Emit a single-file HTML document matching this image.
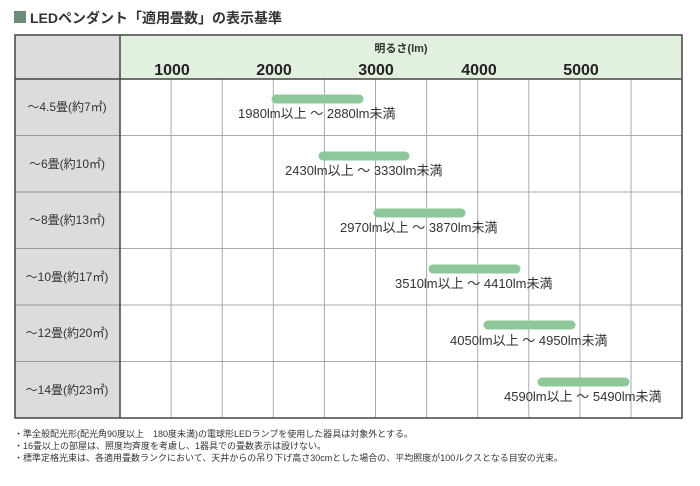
<!DOCTYPE html>
<html><head><meta charset="utf-8"><style>
body{margin:0;background:#fff;width:700px;height:481px;overflow:hidden;font-family:"Liberation Sans","Noto Sans CJK JP",sans-serif;}
</style></head><body>
<svg width="700" height="481" xmlns="http://www.w3.org/2000/svg" font-family="Liberation Sans, Noto Sans CJK JP, sans-serif">
<rect x="14" y="11" width="12" height="12" fill="#6b8c78"/>
<text x="30" y="23" font-size="14" font-weight="bold" fill="#333">LEDペンダント「適用畳数」の表示基準</text>
<rect x="15" y="35" width="105" height="383" fill="#dcdcdc"/>
<rect x="120" y="35" width="562" height="44" fill="#e2f0df"/>
<g stroke="#aaa" stroke-width="1">
<line x1="171.1" y1="79" x2="171.1" y2="418"/><line x1="222.2" y1="79" x2="222.2" y2="418"/>
<line x1="273.3" y1="79" x2="273.3" y2="418"/><line x1="324.4" y1="79" x2="324.4" y2="418"/>
<line x1="375.5" y1="79" x2="375.5" y2="418"/><line x1="426.6" y1="79" x2="426.6" y2="418"/>
<line x1="477.7" y1="79" x2="477.7" y2="418"/><line x1="528.8" y1="79" x2="528.8" y2="418"/>
<line x1="579.9" y1="79" x2="579.9" y2="418"/><line x1="631" y1="79" x2="631" y2="418"/>
<line x1="120" y1="135.5" x2="682" y2="135.5"/><line x1="120" y1="192" x2="682" y2="192"/>
<line x1="120" y1="248.5" x2="682" y2="248.5"/><line x1="120" y1="305" x2="682" y2="305"/>
<line x1="120" y1="361.5" x2="682" y2="361.5"/>
</g>
<g stroke="#999" stroke-width="1">
<line x1="15" y1="135.5" x2="120" y2="135.5"/><line x1="15" y1="192" x2="120" y2="192"/>
<line x1="15" y1="248.5" x2="120" y2="248.5"/><line x1="15" y1="305" x2="120" y2="305"/>
<line x1="15" y1="361.5" x2="120" y2="361.5"/>
</g>
<g stroke="#444" stroke-width="1.5" fill="none">
<rect x="15" y="35" width="667" height="383"/>
<line x1="120" y1="35" x2="120" y2="418"/>
<line x1="15" y1="79" x2="682" y2="79"/>
</g>
<text x="401" y="52" font-size="11" font-weight="bold" fill="#333" text-anchor="middle">明るさ(lm)</text>
<g font-size="16" font-weight="bold" fill="#222" text-anchor="middle">
<text x="172" y="75">1000</text><text x="274" y="75">2000</text><text x="376" y="75">3000</text><text x="479" y="75">4000</text><text x="581" y="75">5000</text>
</g>
<g font-size="12" fill="#333" text-anchor="middle">
<text x="67" y="111">～4.5畳(約7㎡)</text>
<text x="67" y="168">～6畳(約10㎡)</text>
<text x="67" y="224">～8畳(約13㎡)</text>
<text x="67" y="281">～10畳(約17㎡)</text>
<text x="67" y="337">～12畳(約20㎡)</text>
<text x="67" y="394">～14畳(約23㎡)</text>
</g>
<g stroke="#8dc79a" stroke-width="9" stroke-linecap="round">
<line x1="276" y1="99" x2="359" y2="99"/>
<line x1="323" y1="156" x2="405" y2="156"/>
<line x1="378" y1="213" x2="461" y2="213"/>
<line x1="433" y1="269" x2="516" y2="269"/>
<line x1="488" y1="325" x2="571" y2="325"/>
<line x1="542" y1="382" x2="625" y2="382"/>
</g>
<g font-size="13" fill="#333">
<text x="238" y="118">1980lm以上 ～ 2880lm未満</text>
<text x="285" y="175">2430lm以上 ～ 3330lm未満</text>
<text x="340" y="232">2970lm以上 ～ 3870lm未満</text>
<text x="395" y="288">3510lm以上 ～ 4410lm未満</text>
<text x="450" y="345">4050lm以上 ～ 4950lm未満</text>
<text x="504" y="401">4590lm以上 ～ 5490lm未満</text>
</g>
<g font-size="9" fill="#333">
<text x="14" y="437">・準全般配光形(配光角90度以上　180度未満)の電球形LEDランプを使用した器具は対象外とする。</text>
<text x="14" y="449">・16畳以上の部屋は、照度均斉度を考慮し、1器具での畳数表示は設けない。</text>
<text x="14" y="461">・標準定格光束は、各適用畳数ランクにおいて、天井からの吊り下げ高さ30cmとした場合の、平均照度が100ルクスとなる目安の光束。</text>
</g>
</svg>
</body></html>
